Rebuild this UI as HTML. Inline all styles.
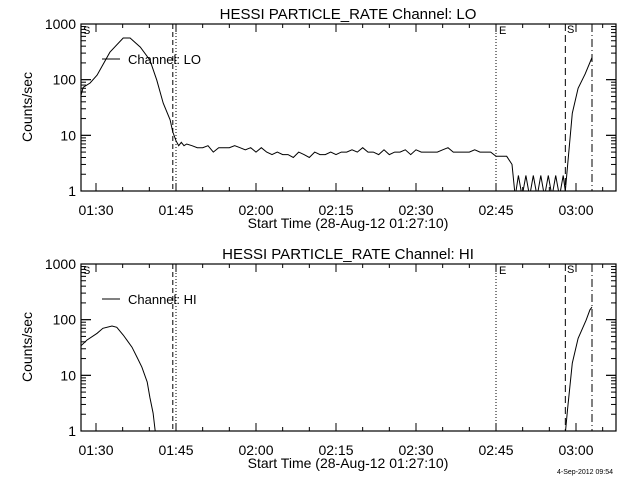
<!DOCTYPE html>
<html><head><meta charset="utf-8"><style>
html,body{margin:0;padding:0;background:#fff;}
svg{display:block;font-family:"Liberation Sans",sans-serif;}
</style></head><body>
<svg id="c" width="640" height="480" viewBox="0 0 640 480"></svg>
<script>
// data: times in minutes after 01:30
const xTickLabels = ["01:30","01:45","02:00","02:15","02:30","02:45","03:00"];
const yTickLabels = ["1","10","100","1000"];
const panelTitles = ["HESSI PARTICLE_RATE Channel: LO","HESSI PARTICLE_RATE Channel: HI"];
const legendLabels = ["Channel: LO","Channel: HI"];
const loTimes = [-2.8,-2.4,-1.1,0.2,2.6,5.1,6.4,8.3,10.1,11.4,12.6,13.9,14.4,15,15.5,16,16.5,17,18,19,20,21,22,23,24,25,26,27,28,29,30,31,32,33,34,35,36,37,38,39,40,41,42,43,44,45,46,47,48,49,50,51,52,53,54,55,56,57,58,59,60,61,62,63,64,65,66,67,68,69,70,71,72,73,74,75,76,77,78,78.6,79.2,79.9,80.6,81.3,82,82.7,83.4,84.1,84.8,85.5,86.2,86.9,87.6,88,89.3,90.4,91.7,93];
const loValues = [53,73,87,121,312,560,560,385,225,98,38,19,11.5,
8,6.5,7.5,6.5,7,6.5,6,6,6.5,5,
6,6,6,6.5,6,5.5,6,5,6,5,
4.5,5,4.5,4.5,4,5,4.5,4,5,4.5,
4.5,5,4.5,5,5,5.5,5,6,5,5,
4.5,5.5,4.5,5,5,5.5,4.5,5.5,5,5,
5,5,5.5,6,5,5,5,5,5.5,5,
5,5,4.2,4.2,4.2,3,
0.8,1.9,0.8,1.9,0.8,1.9,0.8,1.9,0.8,1.9,0.8,1.9,0.8,1.9,
1,25,70,126,250];
const hiTimes = [-2.8,-1.7,0.2,1.3,3,3.9,5.1,6.75,7.7,8.6,9.6,10.1,10.7,11.1,11.3];
const hiValues = [34,43,57,70,77,73,53,32,21,14,7.6,4,2.1,1,0.7];
const hiTimes2 = [88,88.4,89.3,90.4,91.9,92.6,93];
const hiValues2 = [0.9,2.4,16.6,46,98,150,168];
const markerTimes = [14.4,15,75,88,93]; // dashed, dotted, E dotted, S dashed, dash-dot

const NS="http://www.w3.org/2000/svg";
const svg=document.getElementById('c');
const X0=81,X1=616,PXM=80/15;
function xs(t){return 96+t*PXM;}
function mk(tag,attrs,parent){const e=document.createElementNS(NS,tag);for(const k in attrs)e.setAttribute(k,attrs[k]);(parent||svg).appendChild(e);return e;}

function panel(off,idx,series){
  const T=24+off,B=191+off,D=(B-T)/3;
  const ys=v=>B-Math.log10(v)*D;
  const g=mk('g',{});
  
  
  const cid='clip'+idx;
  const cp=mk('clipPath',{id:cid},g);mk('rect',{x:X0,y:T-1,width:X1-X0,height:B-T+1},cp);
  const t=mk('text',{x:348,y:19+off,'text-anchor':'middle','font-size':15},g);t.textContent=panelTitles[idx];
  
  const fr=mk('rect',{x:X0,y:T,width:X1-X0,height:B-T,fill:'none',stroke:'#000','stroke-width':1.2},g);
  
  for(let m=0;m<=95;m+=5){const x=xs(m);if(x<X0||x>X1)continue;const L=(m%15===0)?8:4;
    mk('line',{x1:x,y1:B,x2:x,y2:B-L,stroke:'#000'},g);mk('line',{x1:x,y1:T,x2:x,y2:T+L,stroke:'#000'},g);}
  xTickLabels.forEach((s,i)=>{const e=mk('text',{x:xs(i*15),y:215+off,'text-anchor':'middle','font-size':14},g);e.textContent=s;
    });
  for(let d=0;d<3;d++)for(let k=1;k<=10;k++){const y=ys(k*Math.pow(10,d));const L=(k===1||k===10)?10:5;
    mk('line',{x1:X0,y1:y,x2:X0+L,y2:y,stroke:'#000'},g);mk('line',{x1:X1,y1:y,x2:X1-L,y2:y,stroke:'#000'},g);}
  yTickLabels.forEach((s,i)=>{const e=mk('text',{x:76,y:ys(Math.pow(10,i))+5,'text-anchor':'end','font-size':14},g);e.textContent=s;
    });
  const yt=mk('text',{x:0,y:0,'text-anchor':'middle','font-size':14,transform:`translate(32,${107+off}) rotate(-90)`},g);yt.textContent='Counts/sec';
  
  const xt=mk('text',{x:348,y:228+off,'text-anchor':'middle','font-size':14},g);xt.textContent='Start Time (28-Aug-12 01:27:10)';
  
  const dashes=['5,3','1,2','1,2','7,4','8,3,1,3'];
  markerTimes.forEach((m,i)=>{const l=mk('line',{x1:xs(m),y1:T,x2:xs(m),y2:B,stroke:'#000','stroke-dasharray':dashes[i]},g);
    });
  [['S',83,34],['E',499,34],['S',567,33]].forEach(a=>{const e=mk('text',{x:a[1],y:a[2]+off,'font-size':11},g);e.textContent=a[0];
    });
  mk('line',{x1:102,y1:59+off,x2:120,y2:59+off,stroke:'#000'},g);
  const lt=mk('text',{x:128,y:64+off,'font-size':13},g);lt.textContent=legendLabels[idx];
  
  series.forEach(([tt,vv])=>{
    const p=mk('polyline',{points:tt.map((q,i)=>xs(q).toFixed(1)+','+ys(vv[i]).toFixed(1)).join(' '),fill:'none',stroke:'#000','stroke-width':1,'clip-path':`url(#${cid})`},g);
    
  });
}
panel(0,0,[[loTimes,loValues]]);
panel(240,1,[[hiTimes,hiValues],[hiTimes2,hiValues2]]);
const ts=mk('text',{x:585,y:474,'font-size':7,'text-anchor':'middle'});ts.textContent='4-Sep-2012 09:54';

</script>
</body></html>
